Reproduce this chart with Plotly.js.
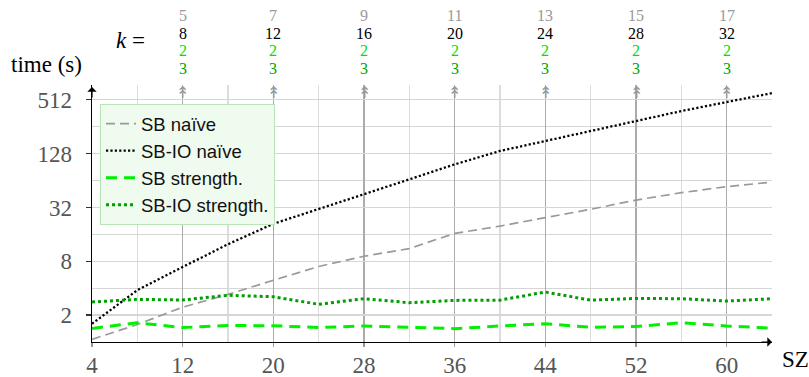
<!DOCTYPE html>
<html>
<head>
<meta charset="utf-8">
<script src="https://cdn.plot.ly/plotly-3.0.1.min.js"></script>
<style>html,body{margin:0;padding:0;background:#fff;}#chart{width:809px;height:377px;}</style>
</head>
<body>
<div id="chart"></div>
<script>
// ---- data ----
const sizes = [4, 8, 12, 16, 20, 24, 28, 32, 36, 40, 44, 48, 52, 56, 60, 64];
const sbNaive = [1.07, 1.57, 2.45, 3.41, 4.9, 7.0, 9.1, 11.1, 16.4, 19.8, 24.6, 30.5, 38.7, 46.8, 54.7, 61.5];
const sbioNaive = [1.6, 3.8, 6.9, 12.4, 21.0, 30.5, 45, 66, 97, 137, 177, 229, 297, 383, 483, 608];
const sbStrength = [1.42, 1.64, 1.45, 1.53, 1.52, 1.45, 1.51, 1.47, 1.41, 1.51, 1.60, 1.46, 1.49, 1.64, 1.51, 1.43];
const sbioStrength = [2.80, 3.0, 2.95, 3.33, 3.21, 2.64, 3.05, 2.75, 2.92, 2.94, 3.62, 2.94, 3.07, 3.05, 2.87, 3.05];

const xTickVals = [4, 12, 20, 28, 36, 44, 52, 60];
const xMinorVals = [8, 16, 24, 32, 40, 48, 56, 64];
const yTickVals = [2, 8, 32, 128, 512];
const yMinorVals = [4, 16, 64, 256];

const kX = [12, 20, 28, 36, 44, 52, 60];
const kRowGray = ['5', '7', '9', '11', '13', '15', '17'];
const kRowBlack = ['8', '12', '16', '20', '24', '28', '32'];
const kRowGreen = ['2', '2', '2', '2', '2', '2', '2'];
const kRowDark = ['3', '3', '3', '3', '3', '3', '3'];

// ---- layout helpers ----
const W = 809, H = 377, L = 92, R = 37, T = 85, B = 35;
const plotW = W - L - R, plotH = H - T - B;
const px = v => (v - L) / plotW;
const py = v => (H - B - v) / plotH;

const serif = 'Times New Roman';
const sans = 'Liberation Sans';

const traces = [
  {x: sizes, y: sbNaive, name: 'SB naïve', mode: 'lines',
   line: {color: '#9a9a9a', width: 1.7, dash: '9px,5px'}},
  {x: sizes, y: sbioNaive, name: 'SB-IO naïve', mode: 'lines',
   line: {color: '#000000', width: 2.3, dash: '2.2px,2.2px'}},
  {x: sizes, y: sbStrength, name: 'SB strength.', mode: 'lines',
   line: {color: '#00f000', width: 3, dash: '11px,7px'}},
  {x: sizes, y: sbioStrength, name: 'SB-IO strength.', mode: 'lines',
   line: {color: '#009e00', width: 3, dash: '3px,3px'}}
];

const annotations = [];
const rows = [
  {vals: kRowGray, color: '#999999', y: 15},
  {vals: kRowBlack, color: '#000000', y: 33},
  {vals: kRowGreen, color: '#00e000', y: 50.5},
  {vals: kRowDark, color: '#00a400', y: 68.5}
];
rows.forEach(r => {
  kX.forEach((xv, i) => {
    annotations.push({x: xv, xref: 'x', y: py(r.y), yref: 'paper', text: r.vals[i],
      showarrow: false, xanchor: 'center', yanchor: 'middle',
      font: {family: serif, size: 16, color: r.color}});
  });
});
kX.forEach(xv => {
  annotations.push({x: xv, xref: 'x', y: py(92), yref: 'paper', text: '↟',
    showarrow: false, xanchor: 'center', yanchor: 'middle',
    font: {family: 'DejaVu Sans', size: 16, color: '#999999'}});
});
annotations.push({x: px(130), xref: 'paper', y: py(41), yref: 'paper', text: '<i>k</i> =',
  showarrow: false, xanchor: 'center', yanchor: 'middle', font: {family: serif, size: 23, color: '#000'}});
annotations.push({x: px(46.5), xref: 'paper', y: py(64), yref: 'paper', text: 'time (s)',
  showarrow: false, xanchor: 'center', yanchor: 'middle', font: {family: serif, size: 23, color: '#000'}});
annotations.push({x: px(795), xref: 'paper', y: py(359), yref: 'paper', text: 'SZ',
  showarrow: false, xanchor: 'center', yanchor: 'middle', font: {family: serif, size: 23, color: '#000'}});
// axis arrows
annotations.push({x: 0, xref: 'paper', y: py(87), yref: 'paper', ax: 0, ay: 12, text: '',
  showarrow: true, arrowhead: 1, arrowsize: 1.3, arrowwidth: 1.2, arrowcolor: '#000'});
annotations.push({x: px(772), xref: 'paper', y: 0, yref: 'paper', ax: -12, ay: 0, text: '',
  showarrow: true, arrowhead: 1, arrowsize: 1.3, arrowwidth: 1.2, arrowcolor: '#000'});

const layout = {
  width: W, height: H,
  margin: {l: L, r: R, t: T, b: B},
  paper_bgcolor: '#fff', plot_bgcolor: '#fff',
  showlegend: true,
  legend: {x: px(100), y: py(104), xanchor: 'left', yanchor: 'top',
    bgcolor: '#effbef', bordercolor: '#b8e4b8', borderwidth: 1,
    font: {family: sans, size: 18.5, color: '#111'}, itemwidth: 30, tracegroupgap: 0},
  xaxis: {range: [4, 64], tickmode: 'array', tickvals: xTickVals, ticktext: xTickVals.map(String),
    showgrid: true, gridcolor: '#ababab', gridwidth: 1.2,
    minor: {tickmode: 'array', tickvals: xMinorVals, showgrid: true, gridcolor: '#dcdcdc', gridwidth: 1.2, ticks: ''},
    ticks: 'outside', ticklen: 4, tickcolor: '#999', tickwidth: 1.2, ticklabelstandoff: -2,
    showline: true, linecolor: '#000', linewidth: 1.3, zeroline: false,
    tickfont: {family: serif, size: 23, color: '#555'}},
  yaxis: {type: 'log', range: [0, 9.55 * Math.log10(2)], tickmode: 'array', tickvals: yTickVals,
    ticktext: yTickVals.map(String),
    showgrid: true, gridcolor: '#d6d6d6', gridwidth: 1.2,
    minor: {tickmode: 'array', tickvals: yMinorVals, showgrid: true, gridcolor: '#d6d6d6', gridwidth: 1.2, ticks: ''},
    ticks: 'outside', ticklen: 5, tickcolor: '#333', tickwidth: 1.2, ticklabelstandoff: 9,
    showline: true, linecolor: '#000', linewidth: 1.3, zeroline: false,
    tickfont: {family: serif, size: 23, color: '#555'}},
  annotations: annotations
};

Plotly.newPlot('chart', traces, layout, {displayModeBar: false, staticPlot: true});
</script>
</body>
</html>
